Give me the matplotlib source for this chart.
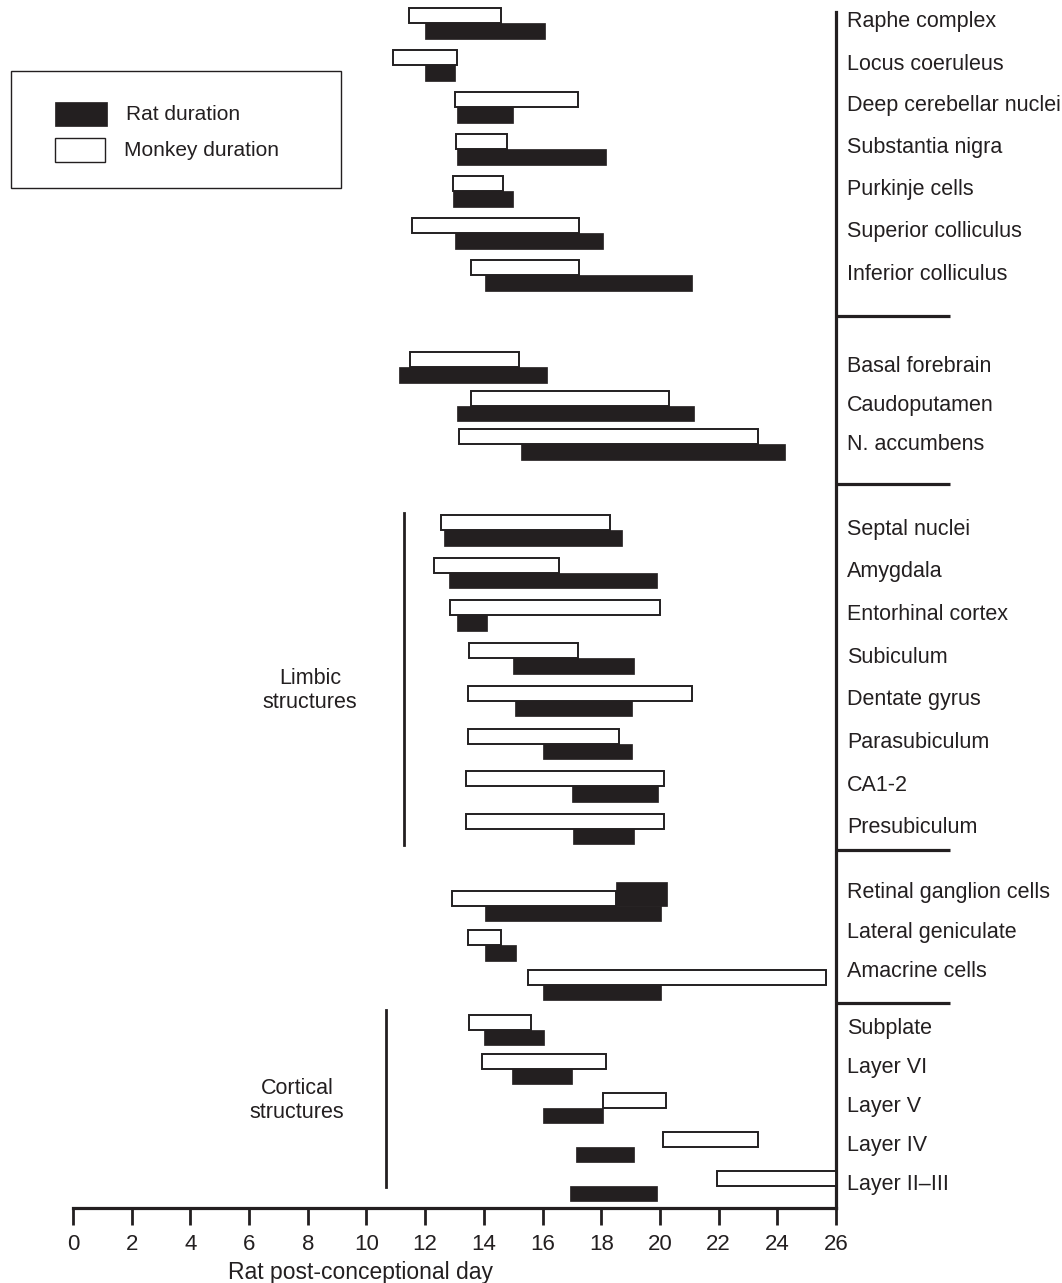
import matplotlib
matplotlib.use("Agg")
import matplotlib.pyplot as plt
from matplotlib.patches import Rectangle

# ---------------- data ----------------
group_names = [
    ["Raphe complex", "Locus coeruleus", "Deep cerebellar nuclei", "Substantia nigra",
     "Purkinje cells", "Superior colliculus", "Inferior colliculus"],
    ["Basal forebrain", "Caudoputamen", "N. accumbens"],
    ["Septal nuclei", "Amygdala", "Entorhinal cortex", "Subiculum", "Dentate gyrus",
     "Parasubiculum", "CA1-2", "Presubiculum"],
    ["Retinal ganglion cells", "Lateral geniculate", "Amacrine cells"],
    ["Subplate", "Layer VI", "Layer V", "Layer IV", "Layer II\u2013III"],
]
monkey_start = [11.45, 10.9, 13.0, 13.05, 12.95, 11.55, 13.55,
                11.5, 13.55, 13.15,
                12.55, 12.3, 12.85, 13.5, 13.45, 13.45, 13.4, 13.4,
                12.9, 13.45, 15.5,
                13.5, 13.95, 18.05, 20.1, 21.95]
monkey_end = [14.6, 13.1, 17.2, 14.8, 14.65, 17.25, 17.25,
              15.2, 20.3, 23.35,
              18.3, 16.55, 20.0, 17.2, 21.1, 18.6, 20.15, 20.15,
              18.5, 14.6, 25.65,
              15.6, 18.15, 20.2, 23.35, 26.0]
rat_start = [12.0, 12.0, 13.1, 13.1, 12.95, 13.0, 14.05,
             11.1, 13.1, 15.25,
             12.65, 12.8, 13.1, 15.0, 15.05, 16.0, 17.0, 17.05,
             14.05, 14.05, 16.0,
             14.0, 14.95, 16.0, 17.15, 16.95]
rat_end = [16.1, 13.0, 15.0, 18.15, 15.0, 18.05, 21.1,
           16.15, 21.15, 24.25,
           18.7, 19.9, 14.1, 19.1, 19.05, 19.05, 19.95, 19.1,
           20.05, 15.1, 20.05,
           16.05, 17.0, 18.05, 19.1, 19.9]
# extra rat segment drawn over the monkey bar of retinal ganglion cells
extra_name = "Retinal ganglion cells"
extra_start, extra_end = 18.5, 20.25

xticks = list(range(0, 27, 2))
xlabel = "Rat post-conceptional day"
legend_labels = ["Rat duration", "Monkey duration"]

# ---------------- layout ----------------
INK = "#231f20"
W, H = 1062, 1283
AX_L, AX_R, AX_T, AX_B = 73, 836, 12, 1208   # pixels
first_row = 23.0
group_spacing = [42.0, 38.5, 42.7, 39.5, 39.0]
group_gap = [0, 92, 86, 77, 45]
sep_offset = [41, 40, 21, 18]
label_offset = [-1, 0, -1, -13, -1]
WH, BH = 15.0, 15.5
FS = 15.5

plt.rcParams['font.family'] = ['Liberation Sans', 'DejaVu Sans']

fig = plt.figure(figsize=(W / 100, H / 100), dpi=100)
ax = fig.add_axes([AX_L / W, 1 - AX_B / H, (AX_R - AX_L) / W, (AX_B - AX_T) / H])
ax.set_xlim(0, 26)
ax.set_ylim(AX_B, AX_T)

# row positions from group structure
rows, row_group, group_rows = [], [], []
pos = first_row
for g, names in enumerate(group_names):
    if g > 0:
        pos = rows[-1] + group_gap[g]
    gr = []
    for i, n in enumerate(names):
        y = pos + i * group_spacing[g]
        rows.append(y)
        row_group.append(g)
        gr.append(y)
    group_rows.append(gr)
all_names = [n for names in group_names for n in names]

ms, me = monkey_start, monkey_end
rs, re_ = rat_start, rat_end
for i, name in enumerate(all_names):
    y = rows[i]
    ax.barh(y - WH / 2, me[i] - ms[i], left=ms[i], height=WH, color="white",
            edgecolor=INK, linewidth=1.4, zorder=3, clip_on=False)
    ax.barh(y + BH / 2, re_[i] - rs[i], left=rs[i], height=BH, color=INK,
            edgecolor=INK, linewidth=0.5, zorder=4, clip_on=False)
    if name == extra_name:
        ax.barh(y - 11.5, extra_end - extra_start, left=extra_start, height=24,
                color=INK, edgecolor=INK, linewidth=0.5, zorder=5, clip_on=False)
    ax.text(26.37, y + label_offset[row_group[i]], name, ha="left", va="center",
            fontsize=FS, color=INK, clip_on=False)

# separators on the right
for g in range(1, len(group_names)):
    ysep = group_rows[g - 1][-1] + sep_offset[g - 1]
    ax.plot([26, 29.9], [ysep, ysep], color=INK, lw=2.3, solid_capstyle="butt",
            clip_on=False, zorder=6)

# limbic / cortical brackets
lim = group_rows[2]
ax.plot([11.28, 11.28], [lim[0] - 17, lim[-1] + 16], color=INK, lw=2.0, clip_on=False)
ax.text(8.07, (lim[0] + lim[-1]) / 2 + 11, "Limbic\nstructures", ha="center", va="center",
        fontsize=FS, color=INK, linespacing=1.2)
cor = group_rows[4]
ax.plot([10.66, 10.66], [cor[0] - 20, cor[-1] + 1], color=INK, lw=2.0, clip_on=False)
ax.text(7.63, (cor[0] + cor[-1]) / 2 - 7, "Cortical\nstructures", ha="center", va="center",
        fontsize=FS, color=INK, linespacing=1.2)

# axes styling
for s in ["top", "left"]:
    ax.spines[s].set_visible(False)
ax.spines["bottom"].set_linewidth(2.3)
ax.spines["right"].set_linewidth(2.3)
ax.spines["bottom"].set_color(INK)
ax.spines["right"].set_color(INK)
ax.set_yticks([])
ax.set_xticks(xticks)
ax.set_xticklabels([str(t) for t in xticks], fontsize=16, color=INK)
ax.tick_params(axis="x", direction="out", length=12, width=2.0, pad=7, color=INK)
ax.text(9.78, 1272, xlabel, ha="center", va="center", fontsize=16.5,
        color=INK, clip_on=False)

# legend (figure pixel coordinates)
ov = fig.add_axes([0, 0, 1, 1], facecolor="none")
ov.set_xlim(0, W)
ov.set_ylim(H, 0)
ov.axis("off")
ov.add_patch(Rectangle((10.7, 70.7), 330, 117, fill=False, edgecolor=INK, lw=1.0))
ov.add_patch(Rectangle((55, 102.3), 51.7, 23.4, facecolor=INK, edgecolor=INK, lw=0.5))
ov.add_patch(Rectangle((55, 138.3), 49.7, 24, facecolor="white", edgecolor=INK, lw=1.0))
ov.text(126, 114, legend_labels[0], ha="left", va="center", fontsize=15, color=INK)
ov.text(124, 151, legend_labels[1], ha="left", va="center", fontsize=15, color=INK)

fig.savefig("out.png", dpi=100)
